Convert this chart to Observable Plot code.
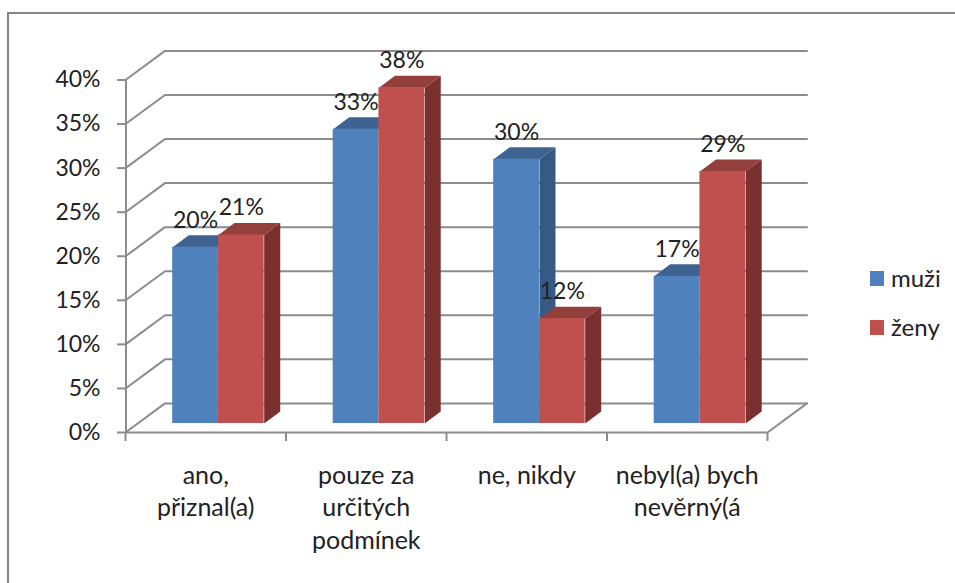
<!DOCTYPE html>
<html><head><meta charset="utf-8">
<script src="https://cdn.jsdelivr.net/npm/d3@7"></script>
<script src="https://cdn.jsdelivr.net/npm/@observablehq/plot@0.6"></script>
<style>
html,body{margin:0;padding:0;background:#fff;overflow:hidden}
#wrap{position:relative;width:955px;height:583px;font-family:Lato,sans-serif;color:#222}
#frame{position:absolute;left:7px;top:12px;right:-5px;bottom:-5px;border:2px solid #868686}
.lg{position:absolute;left:870px;display:flex;align-items:center;font-size:24px;line-height:24px}
.lg i{display:block;width:14px;height:15px;margin-right:7px}
svg{position:absolute;left:0;top:0;background:transparent!important}
</style></head><body>
<div id="wrap"><div id="frame"></div></div>
<script>
const categories = [["ano,","přiznal(a)"],["pouze za","určitých","podmínek"],["ne, nikdy"],["nebyl(a) bych","nevěrný(á"]];
const muzi = [20, 33.4, 30, 16.7];
const zeny = [21.4, 38.1, 11.9, 28.6];
const seriesNames = ["muži","ženy"];
const yTicks = [0,5,10,15,20,25,30,35,40];
const xTicks = [0,1,2,3,4];
const frontColors = ["#4f81bd","#c0504d"];
const topColors = ["#3e6391","#93403c"];
const sideColors = ["#375a85","#7a302e"];

// depth of the 3D box and of the bars, in data units (categories, percent)
const wallX = 0.246, wallY = 3.3;
const planeX = 0.084, planeY = 1.02;
const barDX = 0.1, barDY = 1.36;
const gap = 0.21, barW = 0.285;

const bars = [];
[muzi, zeny].forEach((vals, s) => vals.forEach((v, i) => {
  const x1 = i + planeX + gap + s * barW, x2 = x1 + barW;
  bars.push({s, v, x1, x2, y1: planeY, y2: v + planeY, i});
}));
const topFaces = bars.flatMap(b => [[b.x1,b.y2],[b.x2,b.y2],[b.x2+barDX,b.y2+barDY],[b.x1+barDX,b.y2+barDY]].map(([x,y]) => ({x,y,s:b.s,k:`t${b.s}-${b.i}`})));
const sideFaces = bars.flatMap(b => [[b.x2,b.y1],[b.x2,b.y2],[b.x2+barDX,b.y2+barDY],[b.x2+barDX,b.y1+barDY]].map(([x,y]) => ({x,y,s:b.s,k:`s${b.s}-${b.i}`})));

const grid = yTicks.flatMap(v => [[0,v],[wallX,v+wallY],[4+wallX,v+wallY]].map(([x,y]) => ({x,y,k:v})));
const floorEnd = [[4,0],[4+wallX,wallY]].map(([x,y]) => ({x,y}));
const gridColor = "#8c8c8c";

const faceMarks = s => [
  Plot.line(topFaces.filter(d=>d.s===s), {x:"x",y:"y",z:"k",fill:topColors[s],stroke:"none",curve:"linear-closed"}),
  Plot.line(sideFaces.filter(d=>d.s===s), {x:"x",y:"y",z:"k",fill:sideColors[s],stroke:"none",curve:"linear-closed"}),
  Plot.rect(bars.filter(d=>d.s===s), {x1:"x1",x2:"x2",y1:"y1",y2:"y2",fill:frontColors[s]})
];

const chart = Plot.plot({
  width:955, height:583,
  marginLeft:125, marginRight:188, marginTop:79.5, marginBottom:151,
  style:{fontFamily:"Lato,sans-serif", background:"transparent", overflow:"visible"},
  x:{domain:[0,4], axis:null},
  y:{domain:[0,40], axis:null},
  marks:[
    Plot.line(grid,{x:"x",y:"y",z:"k",stroke:gridColor,strokeWidth:2}),
    Plot.line(floorEnd,{x:"x",y:"y",stroke:gridColor,strokeWidth:2}),
    Plot.ruleY([0],{stroke:gridColor,strokeWidth:2}),
    Plot.ruleX([0],{y1:0,y2:40,stroke:gridColor,strokeWidth:2,dx:0.5}),
    Plot.axisY({ticks:yTicks,tickSize:8,tickFormat:()=>null,color:gridColor,strokeWidth:2,strokeOpacity:1,label:null}),
    Plot.axisX({ticks:xTicks,tickSize:9,tickFormat:()=>null,color:gridColor,strokeWidth:2,strokeOpacity:1,label:null}),
    Plot.axisY({ticks:yTicks,tickSize:0,tickPadding:25,tickFormat:d=>d+"%",fontSize:23,color:"#222",label:null}),
    ...faceMarks(0),
    ...faceMarks(1),
    Plot.text(bars,{x:d=>(d.x1+d.x2)/2,y:"y2",text:d=>Math.round(d.v)+"%",dy:-27,fontSize:23,fill:"#222"}),
    Plot.text(categories,{x:(d,i)=>i+0.5,y:()=>0,text:d=>d.join("\n"),lineAnchor:"top",lineHeight:1.304,dy:28,fontSize:25,fill:"#222"})
  ]
});
const wrap = document.getElementById("wrap");
wrap.appendChild(chart);
seriesNames.forEach((n,i)=>{
  const el=document.createElement("div");
  el.className="lg"; el.style.top=(266+i*49)+"px";
  el.innerHTML=`<i style="background:${frontColors[i]}"></i><span>${n}</span>`;
  wrap.appendChild(el);
});
</script></body></html>
